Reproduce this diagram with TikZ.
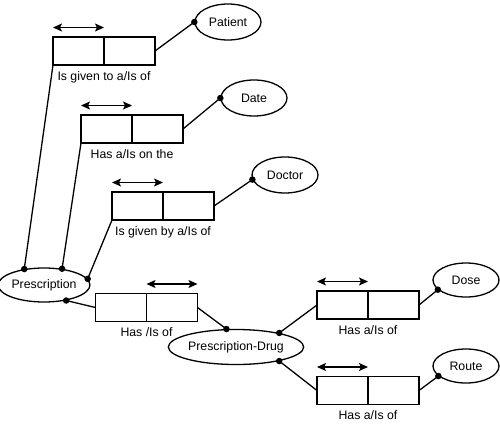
\documentclass[tikz,border=0pt]{standalone}
\usepackage{fontspec}
\setmainfont{Liberation Sans}
\usetikzlibrary{arrows.meta, positioning, shapes.geometric}
\tikzset{
    cell/.style={rectangle, draw=black, line width=1.3pt, minimum width=51pt, minimum height=28pt, inner sep=0pt, outer sep=0pt},
    entity/.style={ellipse, draw=black, line width=1.3pt, minimum width=66pt, minimum height=36pt, inner sep=0pt, font=\fontsize{12.3}{14}\selectfont},
    rolelabel/.style={font=\fontsize{12.3}{14}\selectfont, inner sep=1pt},
    link/.style={line width=1.3pt, draw=black},
    twoway/.style={{Stealth[length=9pt, width=8pt, inset=2pt]}-{Stealth[length=9pt, width=8pt, inset=2pt]}, line width=1.3pt},
    dot/.style={circle, fill=black, inner sep=0pt, minimum size=6.5pt}
}

\begin{document}
\begin{tikzpicture}[x=1pt, y=-1pt]
        \useasboundingbox (0,0) rectangle (500,423);

        % entities
        \node[entity] (patient) at (228,22) {Patient};
        \node[entity] (date) at (254,98) {Date};
        \node[entity] (doctor) at (285,175) {Doctor};
        \node[entity, minimum width=86pt, minimum height=34pt] (presc) at (44,285) {Prescription};
        \node[entity, minimum width=129pt, minimum height=35pt] (pdrug) at (236,347) {Prescription-Drug};
        \node[entity, minimum height=34pt] (dose) at (466,280) {Dose};
        \node[entity, minimum height=34pt] (route) at (466,366) {Route};

        % relationship boxes
        \node[cell] (givenA) at (78.5,51) {};
        \node[cell, right=0pt of givenA] (givenB) {};
        \node[cell] (onA) at (106.5,129) {};
        \node[cell, right=0pt of onA] (onB) {};
        \node[cell] (byA) at (137.5,206) {};
        \node[cell, right=0pt of byA] (byB) {};
        \node[cell] (hasA) at (121,307.5) {};
        \node[cell, right=0pt of hasA] (hasB) {};
        \node[cell] (doseA) at (342.5,305) {};
        \node[cell, right=0pt of doseA] (doseB) {};
        \node[cell] (routeA) at (342.5,390.5) {};
        \node[cell, right=0pt of routeA] (routeB) {};

        \node[rolelabel, below=5pt of givenA.south east] (givenLbl) {Is given to a/Is of};
        \node[rolelabel, below=5pt of onA.south east] (onLbl) {Has a/Is on the};
        \node[rolelabel, below=5pt of byA.south east] (byLbl) {Is given by a/Is of};
        \node[rolelabel, below=5pt of hasA.south east] (hasLbl) {Has /Is of};
        \node[rolelabel, below=5pt of doseA.south east] (doseLbl) {Has a/Is of};
        \node[rolelabel, below=5pt of routeA.south east] (routeLbl) {Has a/Is of};

        \draw[twoway] ([yshift=9.5pt]givenA.north west) -- ([yshift=9.5pt]givenA.north east);
        \draw[twoway] ([yshift=9.5pt]onA.north west) -- ([yshift=9.5pt]onA.north east);
        \draw[twoway] ([yshift=9.5pt]byA.north west) -- ([yshift=9.5pt]byA.north east);
        \draw[twoway] ([yshift=9.5pt]hasB.north west) -- ([yshift=9.5pt]hasB.north east);
        \draw[twoway] ([yshift=9.5pt]doseA.north west) -- ([yshift=9.5pt]doseA.north east);
        \draw[twoway] ([yshift=9.5pt]routeA.north west) -- ([yshift=9.5pt]routeA.north east);

        % connection dots
        \node[dot] (patientDot) at (patient.180) {};
        \node[dot] (dateDot) at (date.180) {};
        \node[dot] (doctorDot) at (doctor.188) {};
        \node[dot] (prescDotA) at (presc.141) {};
        \node[dot] (prescDotB) at (presc.42) {};
        \node[dot] (prescDotC) at (presc.8) {};
        \node[dot] (prescDotD) at (presc.325) {};
        \node[dot] (pdrugDotA) at (pdrug.118) {};
        \node[dot] (pdrugDotB) at (pdrug.18) {};
        \node[dot] (pdrugDotC) at (pdrug.342) {};
        \node[dot] (doseDot) at (dose.199) {};
        \node[dot] (routeDot) at (route.200) {};

        \draw[link] (prescDotA.center) -- (givenA.south west);
        \draw[link] (prescDotB.center) -- (onA.south west);
        \draw[link] (prescDotC.center) -- (byA.south west);
        \draw[link] (prescDotD.center) -- (hasA.west);
        \draw[link] (givenB.east) -- (patientDot.center);
        \draw[link] (onB.east) -- (dateDot.center);
        \draw[link] (byB.east) -- (doctorDot.center);
        \draw[link] (hasB.east) -- (pdrugDotA.center);
        \draw[link] (pdrugDotB.center) -- (doseA.west);
        \draw[link] (pdrugDotC.center) -- (routeA.west);
        \draw[link] (doseB.east) -- (doseDot.center);
        \draw[link] (routeB.east) -- (routeDot.center);
    \end{tikzpicture}
\end{document}
